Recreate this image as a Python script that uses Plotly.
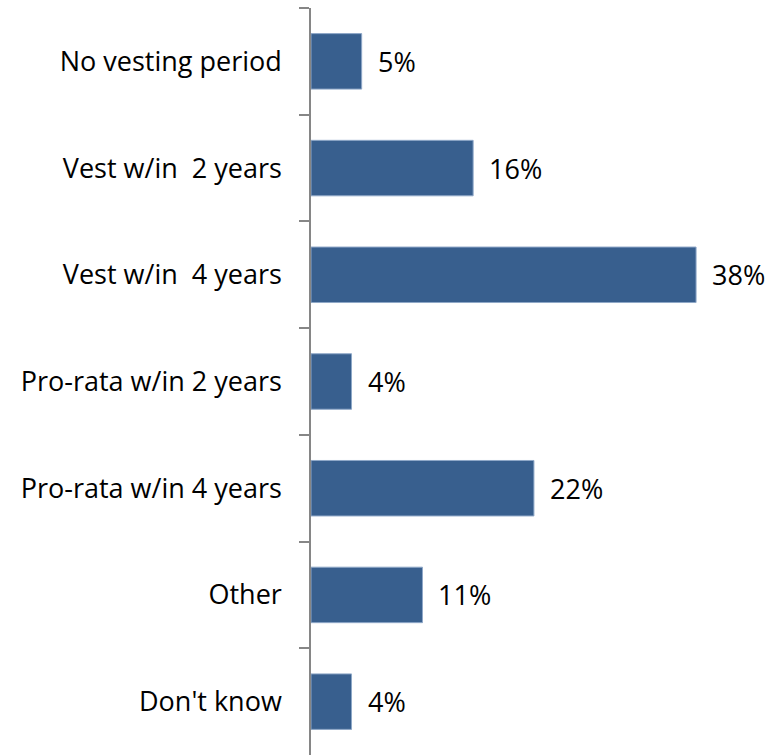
import plotly.graph_objects as go

# Vesting period responses (share of respondents, %)
categories = [
    "No vesting period",
    "Vest w/in  2 years",
    "Vest w/in  4 years",
    "Pro-rata w/in 2 years",
    "Pro-rata w/in 4 years",
    "Other",
    "Don't know",
]
values = [5, 16, 38, 4, 22, 11, 4]
value_labels = [f"{v}%" for v in values]

BAR_COLOR = "#385f8e"
FONT = "Open Sans"
FONT_SIZE = 27

fig = go.Figure(
    go.Bar(
        x=values,
        y=categories,
        orientation="h",
        marker=dict(color=BAR_COLOR, line=dict(color="#8fa8c8", width=1)),
        width=0.52,
        hoverinfo="skip",
    )
)

# Percent labels placed just past the end of each bar
for cat, v, lab in zip(categories, values, value_labels):
    fig.add_annotation(
        x=v, y=cat, text=lab, showarrow=False,
        xanchor="left", yanchor="middle", xshift=14,
        font=dict(family=FONT, size=FONT_SIZE, color="#000000"),
    )

fig.update_layout(
    width=774,
    height=756,
    margin=dict(l=311, r=7, t=8, b=1),
    paper_bgcolor="white",
    plot_bgcolor="white",
    showlegend=False,
    font=dict(family=FONT, size=FONT_SIZE, color="#000000"),
    xaxis=dict(
        range=[0, 45],
        visible=False,
        fixedrange=True,
    ),
    yaxis=dict(
        type="category",
        autorange="reversed",
        showline=True,
        linecolor="#868686",
        linewidth=1.5,
        ticks="outside",
        tickson="boundaries",
        ticklen=10,
        tickwidth=1.5,
        tickcolor="#868686",
        ticklabelstandoff=22,
        showgrid=False,
        zeroline=False,
        tickfont=dict(family=FONT, size=FONT_SIZE, color="#000000"),
    ),
)

fig.write_html("out.html")
